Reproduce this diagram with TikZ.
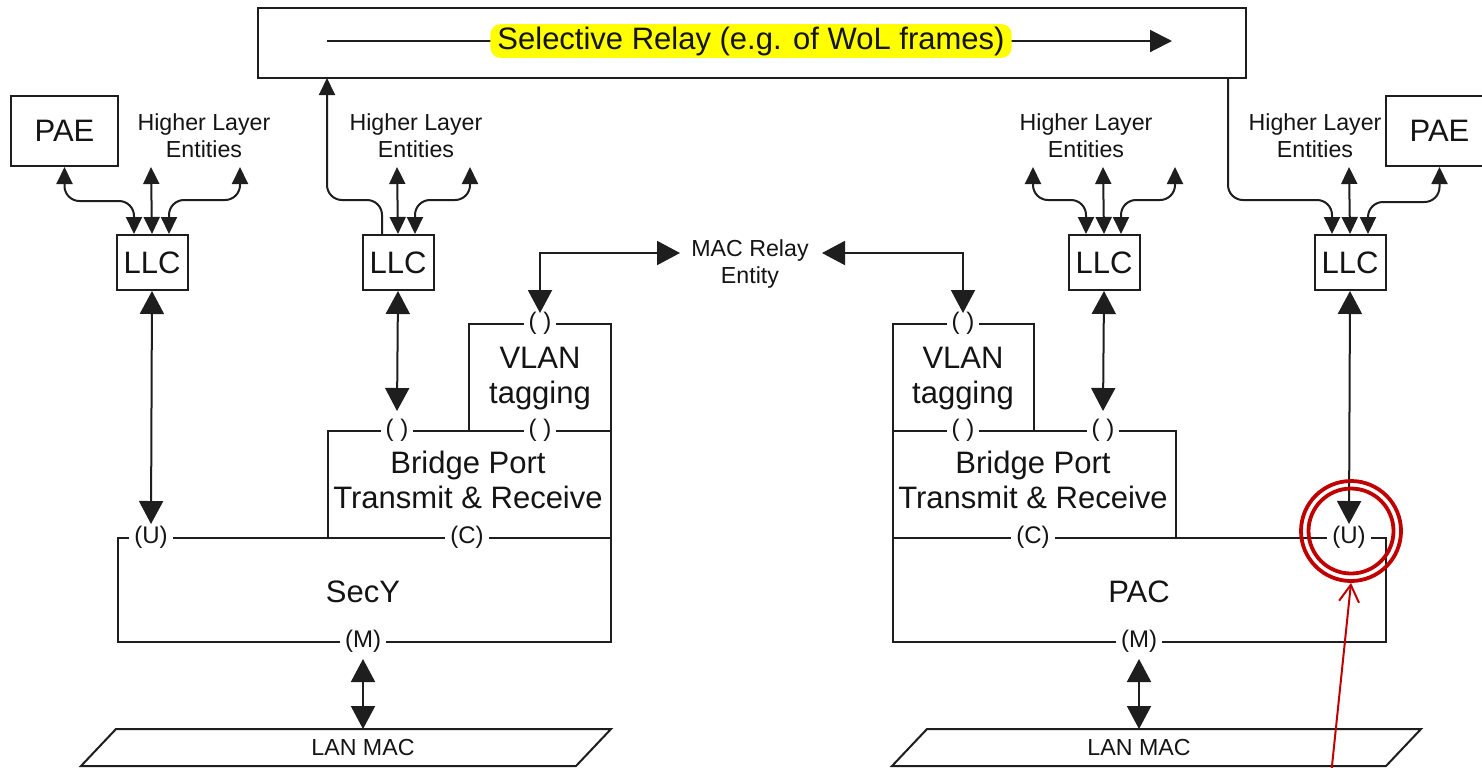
\documentclass[tikz,border=0pt]{standalone}
\usepackage{fontspec}
\setmainfont{Liberation Sans}
\usetikzlibrary{arrows.meta,calc}
\definecolor{linec}{RGB}{30,30,30}
\definecolor{txtc}{RGB}{20,20,20}
\definecolor{annot}{RGB}{192,0,0}
\definecolor{hilite}{RGB}{255,255,0}
\newcommand{\bigtxt}{\fontsize{15.5}{17.5}\selectfont}
\newcommand{\hltxt}{\fontsize{11.6}{13.5}\selectfont}
\newcommand{\lbltxt}{\fontsize{12}{14}\selectfont}
\begin{document}
\begin{tikzpicture}[x=0.5pt,y=-0.5pt,
  ln/.style={line width=1pt, draw=linec},
  box/.style={ln, inner sep=0pt, anchor=north west, align=center, font=\bigtxt, text=txtc},
  bigt/.style={inner sep=0pt, align=center, font=\bigtxt, text=txtc},
  hl/.style={font=\hltxt, align=center, inner sep=0pt, text=txtc},
  lbl/.style={fill=white, font=\lbltxt, inner xsep=2.5pt, inner ysep=0.5pt, text=txtc},
  sarr/.tip={Triangle[length=8.5pt,width=8pt]},
  barr/.tip={Triangle[length=11.5pt,width=12pt]},
  sboth/.style={ln, sarr-sarr, rounded corners=7.5pt},
  bboth/.style={ln, barr-barr},
  ring/.style={circle, draw=annot, line width=1.9pt, inner sep=0pt},
]
\useasboundingbox (0,0) rectangle (1482,767);
\fill[white] (0,0) rectangle (1482,767);
\clip (0,0) rectangle (1482,767);

% ---------- top selective relay ----------
\node[box, minimum width=494pt, minimum height=35pt] (relay) at (257,7) {};
\coordinate (srStart) at (327,41);
\coordinate (srEnd) at (1172,41);
\draw[ln, -{Triangle[length=11pt,width=11pt]}] (srStart) -- (srEnd);
\node[fill=hilite, rounded corners=5pt, inner xsep=3.5pt, inner ysep=1.2pt,
      font=\bigtxt, text=txtc] (srLabel) at (751,41) {Selective Relay (e.g. of WoL frames)};

% ---------- PAE boxes ----------
\node[box, minimum width=53.5pt, minimum height=35pt] (paeL) at (10,95) {PAE};
\node[box, minimum width=53.5pt, minimum height=35pt] (paeR) at (1385,95) {PAE};

% ---------- Higher layer entities ----------
\node[hl] (hleA) at (204,136) {Higher Layer\\Entities};
\node[hl] (hleB) at (416,136) {Higher Layer\\Entities};
\node[hl] (hleC) at (1086,136) {Higher Layer\\Entities};
\node[hl] (hleD) at (1315,136) {Higher Layer\\Entities};

% ---------- LLC boxes ----------
\node[box, minimum width=35.5pt, minimum height=27.5pt] (llcA) at (115.5,234) {LLC};
\node[box, minimum width=35.5pt, minimum height=27.5pt] (llcB) at (361.5,234) {LLC};
\node[box, minimum width=35.5pt, minimum height=27.5pt] (llcC) at (1067.5,234) {LLC};
\node[box, minimum width=35.5pt, minimum height=27.5pt] (llcD) at (1313.5,234) {LLC};

% ---------- MAC relay entity ----------
\node[hl] (macrelay) at (750,264) {MAC Relay\\Entity};

% ---------- left station stack ----------
\node[box, minimum width=71pt, minimum height=53.5pt] (vlanL) at (468,323) {};
\node[bigt] (vlanLtxt) at (540,379) {VLAN\\tagging};
\node[box, minimum width=141.5pt, minimum height=53.5pt] (bridgeL) at (327,430) {};
\node[bigt] (bridgeLtxt) at (468,480) {Bridge Port\\Transmit \& Receive};
\node[box, minimum width=246.5pt, minimum height=52pt] (secy) at (117,537) {};
\node[bigt] (secyTxt) at (363,592) {SecY};

% ---------- right station stack ----------
\node[box, minimum width=70.5pt, minimum height=53.5pt] (vlanR) at (892,323) {};
\node[bigt] (vlanRtxt) at (963,379) {VLAN\\tagging};
\node[box, minimum width=141.5pt, minimum height=53.5pt] (bridgeR) at (892,430) {};
\node[bigt] (bridgeRtxt) at (1033,480) {Bridge Port\\Transmit \& Receive};
\node[box, minimum width=246.5pt, minimum height=52pt] (pac) at (892,537) {};
\node[bigt] (pacTxt) at (1139,592) {PAC};

% ---------- service access point labels ----------
\node[lbl] (lUA) at (151,537) {(U)};
\node[lbl] (lCA) at (467,537) {(C)};
\node[lbl] (lMA) at (363,641) {(M)};
\node[lbl] (lB1) at (397,430) {( )};
\node[lbl] (lB2) at (540,430) {( )};
\node[lbl] (lV1) at (540,323) {( )};
\node[lbl] (lCB) at (1033,537) {(C)};
\node[lbl] (lUB) at (1349,537) {(U)};
\node[lbl] (lMB) at (1139,641) {(M)};
\node[lbl] (lB3) at (963,430) {( )};
\node[lbl] (lB4) at (1103,430) {( )};
\node[lbl] (lV2) at (963,323) {( )};

% ---------- LAN MAC ----------
\draw[ln] (116,729) -- (611,729) -- (576,766) -- (81,766) -- cycle;
\node[hl] (lanL) at (363,747) {LAN MAC};
\draw[ln] (927,729) -- (1421,729) -- (1386,766) -- (892,766) -- cycle;
\node[hl] (lanR) at (1139,747) {LAN MAC};

% ---------- LLC A connectors ----------
\coordinate (tA1) at (151,167);
\coordinate (tA2) at (240,167);
\draw[sboth] (paeL.south) -- ++(0,34) -| ($(llcA.north)+(-18,0)$);
\draw[sboth] (llcA.north) -- (tA1);
\draw[sboth] ($(llcA.north)+(17,0)$) |- ($(tA2)+(0,33)$) -- (tA2);

% ---------- LLC B connectors ----------
\coordinate (rB) at (327,78);
\coordinate (tB1) at (397,167);
\coordinate (tB2) at (470,167);
\draw[ln, -sarr, rounded corners=7.5pt] ($(llcB.north)+(-16,0)$) |- ($(rB)+(0,122)$) -- (rB);
\draw[sboth] (llcB.north) -- (tB1);
\draw[sboth] ($(llcB.north)+(17,0)$) |- ($(tB2)+(0,33)$) -- (tB2);

% ---------- LLC C connectors ----------
\coordinate (tC0) at (1033,167);
\coordinate (tC1) at (1103,167);
\coordinate (tC2) at (1175,167);
\draw[sboth] ($(llcC.north)+(-18,0)$) |- ($(tC0)+(0,33)$) -- (tC0);
\draw[sboth] (llcC.north) -- (tC1);
\draw[sboth] ($(llcC.north)+(17,0)$) |- ($(tC2)+(0,33)$) -- (tC2);

% ---------- LLC D connectors ----------
\coordinate (rD) at (1228,78);
\coordinate (tD1) at (1349,167);
\draw[ln, -sarr, rounded corners=7.5pt] (rD) |- ($(llcD.north)+(-18,-34)$) -- ($(llcD.north)+(-18,0)$);
\draw[sboth] (llcD.north) -- (tD1);
\draw[sboth] ($(llcD.north)+(18,0)$) |- ($(paeR.south)+(0,35)$) -- (paeR.south);

% ---------- LLC to service points ----------
\coordinate (uAtip) at (151,524);
\coordinate (b1tip) at (397,411);
\coordinate (b4tip) at (1103,411);
\coordinate (uBtip) at (1349,524);
\draw[bboth] (llcA.south) -- (uAtip);
\draw[bboth] (llcB.south) -- (b1tip);
\draw[bboth] (llcC.south) -- (b4tip);
\draw[bboth] (llcD.south) -- (uBtip);

% ---------- MAC relay connectors ----------
\coordinate (mrL) at (680,253);
\coordinate (mrR) at (822,253);
\coordinate (vLtip) at (540,313);
\coordinate (vRtip) at (963,313);
\draw[bboth] (vLtip) |- (mrL);
\draw[bboth] (vRtip) |- (mrR);

% ---------- SecY/PAC to LAN MAC ----------
\coordinate (mAtip) at (363,659);
\coordinate (lanLtop) at (363,729);
\coordinate (mBtip) at (1139,659);
\coordinate (lanRtop) at (1139,729);
\draw[bboth] (mAtip) -- (lanLtop);
\draw[bboth] (mBtip) -- (lanRtop);

% ---------- red annotation ----------
\node[ring, minimum size=50pt] (ringOuter) at (1351,531) {};
\node[ring, minimum size=42.5pt] (ringInner) at (1351,531) {};
\coordinate (annTail) at (1330,785);
\draw[draw=annot, line width=1pt, -{Straight Barb[length=8.5pt,width=10pt]}] (annTail) -- (ringOuter.south);
\end{tikzpicture}
\end{document}
